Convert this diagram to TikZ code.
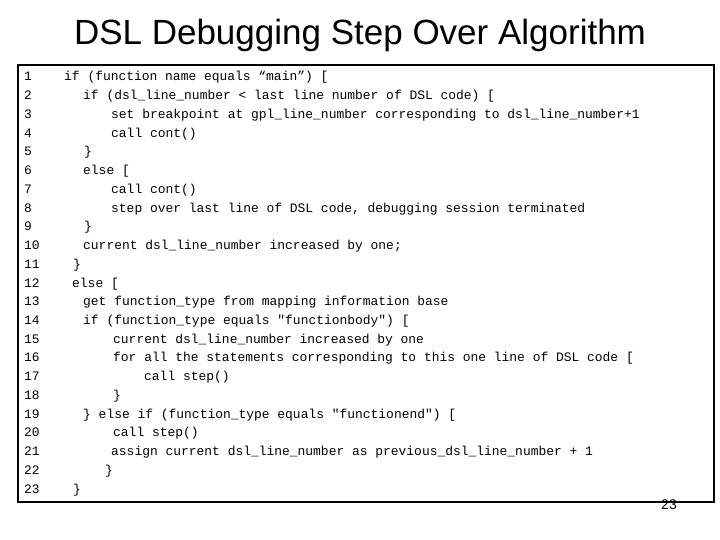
\documentclass[tikz,border=0pt]{standalone}
\usepackage{fontspec}
\setmainfont{Liberation Sans}
\setmonofont{Liberation Mono}
\begin{document}
\begin{tikzpicture}[x=1pt,y=-1pt,
  code/.style={anchor=base west,inner sep=0pt,font=\fontsize{12.95}{14}\ttfamily},
  num/.style={anchor=base west,inner sep=0pt,font=\fontsize{12.95}{14}\ttfamily}]
\useasboundingbox (0,0) rectangle (720,540);
\node[font=\fontsize{35}{40}\selectfont] (title) at (360,35) {DSL Debugging Step Over Algorithm};
\draw[line width=1.6pt] (18,65) rectangle (714,502);
\foreach \n/\x/\t [count=\i] in {
 1/64/{if (function name equals “main”) [},
 2/83/{if (dsl\_line\_number < last line number of DSL code) [},
 3/111/{set breakpoint at gpl\_line\_number corresponding to dsl\_line\_number+1},
 4/111/{call cont()},
 5/84/{\}},
 6/83/{else [},
 7/111/{call cont()},
 8/111/{step over last line of DSL code, debugging session terminated},
 9/84/{\}},
 10/83/{current dsl\_line\_number increased by one;},
 11/73/{\}},
 12/72/{else [},
 13/83/{get function\_type from mapping information base},
 14/83/{if (function\_type equals "functionbody") [},
 15/113/{current dsl\_line\_number increased by one},
 16/113/{for all the statements corresponding to this one line of DSL code [},
 17/144/{call step()},
 18/113/{\}},
 19/83/{\} else if (function\_type equals "functionend") [},
 20/113/{call step()},
 21/111/{assign current dsl\_line\_number as previous\_dsl\_line\_number + 1},
 22/105/{\}},
 23/73/{\}}}
{
  \node[num] (n\n) at (24,{81+(\n-1)*18.73}) {\n};
  \node[code] (c\n) at (\x,{81+(\n-1)*18.73}) {\t};
}
\node[font=\fontsize{14}{16}\selectfont] (pg) at (669,505) {23};
\end{tikzpicture}
\end{document}
